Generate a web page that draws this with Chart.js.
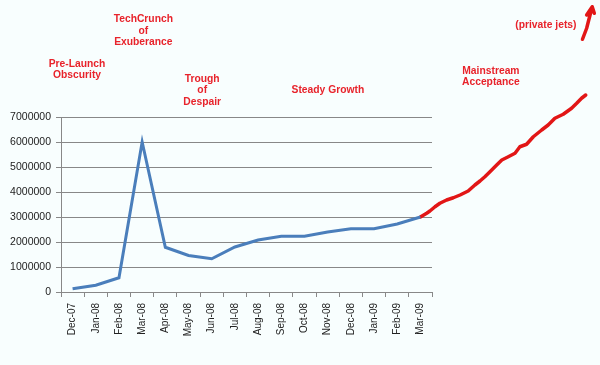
<!DOCTYPE html>
<html>
<head>
<meta charset="utf-8">
<script src="https://cdn.jsdelivr.net/npm/chart.js@4"></script>
<style>
  body { margin: 0; background: #f8fefe; }
  canvas { display: block; }
</style>
</head>
<body>
<canvas id="hype" width="600" height="365"></canvas>
<script>
// months on the x axis
let months = ["Dec-07","Jan-08","Feb-08","Mar-08","Apr-08","May-08","Jun-08","Jul-08",
  "Aug-08","Sep-08","Oct-08","Nov-08","Dec-08","Jan-09","Feb-09","Mar-09"];
let users = [130000, 270000, 570000, 6000000, 1790000, 1460000, 1330000, 1800000,
  2080000, 2230000, 2230000, 2400000, 2530000, 2530000, 2720000, 3000000];

// hand drawn "future" part, x is month index (15 = Mar-09)
let futureX = [15, 15.27, 15.41, 15.63, 15.84, 16.13, 16.42, 16.71, 17.06, 17.35, 17.57, 17.78,
  18.0, 18.29, 18.51, 18.79, 19.08, 19.29, 19.58, 19.87, 20.23, 20.51, 20.8, 21.16, 21.52, 21.74, 21.95, 22.13];
let futureY = [3000000, 3150000, 3240000, 3410000, 3550000, 3680000, 3770000, 3880000, 4040000, 4280000, 4440000, 4610000,
  4810000, 5080000, 5280000, 5410000, 5550000, 5810000, 5910000, 6210000, 6480000, 6680000, 6950000, 7110000, 7350000, 7550000, 7750000, 7880000];

// the arrow to the private jets: shaft then head (left barb, tip, right barb)
let arrowX = [21.99, 22.17, 22.26, 22.41, 22.17, 22.41, 22.5];
let arrowY = [10110000, 10550000, 10880000, 11410000, 11080000, 11410000, 11150000];

let yTicks = [0, 1000000, 2000000, 3000000, 4000000, 5000000, 6000000, 7000000];

// labels, anchored at (month index, value) of the first line
let notes = [
  {lines: ["Pre-Launch", "Obscurity"], at: [0.19, 9120000]},
  {lines: ["TechCrunch", "of", "Exuberance"], at: [3.05, 10900000]},
  {lines: ["Trough", "of", "Despair"], at: [5.59, 8510000]},
  {lines: ["Steady Growth"], at: [11.01, 8080000]},
  {lines: ["Mainstream", "Acceptance"], at: [18.04, 8840000]},
  {lines: ["(private jets)"], at: [20.41, 10680000]}
];

let red = "#e21616";
let grey = "#888888";

function pairs(xs, ys) {
  return xs.map((x, i) => ({x: x, y: ys[i]}));
}

const notePlugin = {
  id: "notes",
  afterDraw(chart) {
    const ctx = chart.ctx;
    const xs = chart.scales.x2;
    const ys = chart.scales.y;
    ctx.save();
    ctx.fillStyle = "#e8232b";
    ctx.font = "bold 10.3px 'Liberation Sans', Arial, sans-serif";
    ctx.textAlign = "center";
    ctx.textBaseline = "middle";
    notes.forEach(n => {
      let px = xs.getPixelForValue(n.at[0]);
      let py = ys.getPixelForValue(n.at[1]);
      n.lines.forEach((line, i) => {
        ctx.fillText(line, px, py + i * 11.3);
      });
    });
    ctx.restore();
  }
};

new Chart(document.getElementById("hype"), {
  type: "line",
  data: {
    labels: months,
    datasets: [
      {
        data: users,
        xAxisID: "x",
        borderColor: "#4a7ebb",
        borderWidth: 3,
        pointRadius: 0,
        tension: 0
      },
      {
        data: pairs(futureX, futureY),
        xAxisID: "x2",
        borderColor: red,
        borderWidth: 3.5,
        borderJoinStyle: "round",
        borderCapStyle: "round",
        pointRadius: 0,
        tension: 0,
        clip: false
      },
      {
        data: pairs(arrowX, arrowY),
        xAxisID: "x2",
        borderColor: red,
        borderWidth: 3.5,
        borderJoinStyle: "round",
        borderCapStyle: "round",
        pointRadius: 0,
        tension: 0,
        clip: false
      }
    ]
  },
  options: {
    responsive: false,
    animation: false,
    layout: { padding: { top: 117, right: 168, left: 0, bottom: 0 } },
    plugins: { legend: { display: false }, tooltip: { enabled: false } },
    scales: {
      x: {
        type: "category",
        offset: true,
        grid: { offset: true, drawOnChartArea: false, tickLength: 5, color: grey },
        border: { color: grey },
        ticks: {
          minRotation: 90, maxRotation: 90, padding: 6, autoSkip: false,
          color: "#222", font: { family: "'Liberation Sans', Arial, sans-serif", size: 10 }
        },
        afterFit(scale) { scale.height = 73; }
      },
      x2: {
        type: "linear",
        display: false,
        bounds: "data",
        // same span as the category axis, set here so points past Mar-09 are still drawn
        afterDataLimits(scale) { scale.min = -0.5; scale.max = 15.5; }
      },
      y: {
        min: 0,
        max: 7000000,
        afterBuildTicks(scale) { scale.ticks = yTicks.map(v => ({value: v})); },
        grid: { color: grey, tickLength: 5 },
        border: { color: grey },
        ticks: {
          padding: 5, color: "#222",
          font: { family: "'Liberation Sans', Arial, sans-serif", size: 10.5 },
          callback: v => String(v)
        },
        afterFit(scale) { scale.width = 61; }
      }
    }
  },
  plugins: [notePlugin]
});
</script>
</body>
</html>
